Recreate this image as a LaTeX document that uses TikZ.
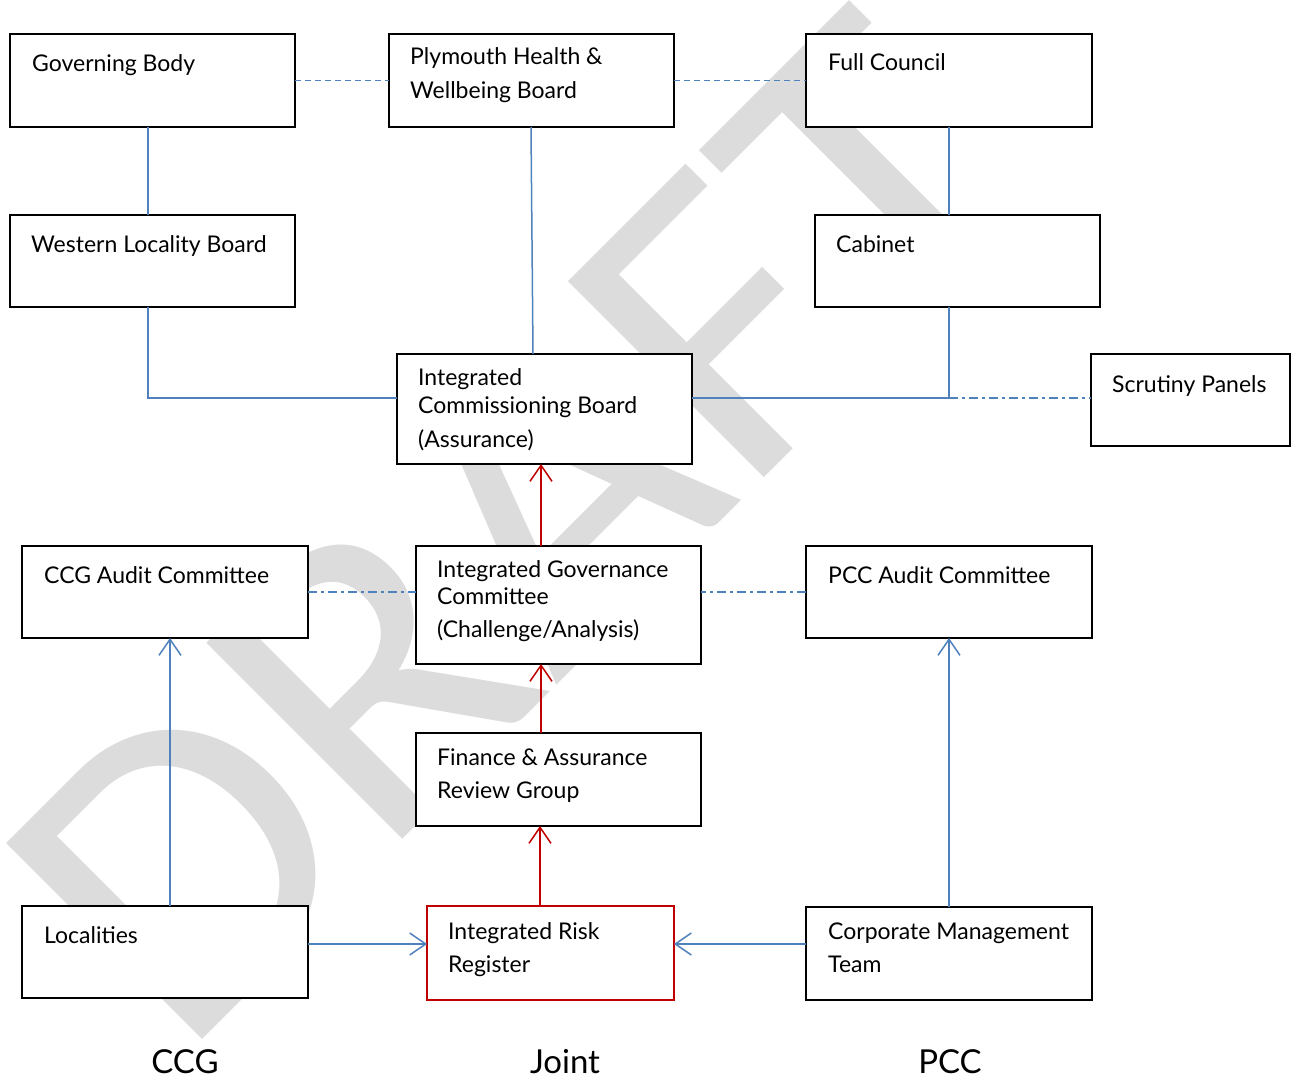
\documentclass[tikz,border=0pt]{standalone}
\usepackage{fontspec}
\setmainfont{Lato}
\newfontfamily\wmfont{Carlito}
\usetikzlibrary{arrows.meta,calc}
\definecolor{lnblue}{RGB}{79,129,189}
\definecolor{lnred}{RGB}{192,0,0}
\definecolor{wmgray}{RGB}{220,220,220}
\begin{document}
\begin{tikzpicture}[x=1pt,y=-1pt,
  box/.style={draw=black,line width=2pt,fill=white,inner sep=0pt,outer sep=0pt,anchor=north west},
  redbox/.style={box,draw=lnred},
  txt/.style={anchor=base west,inner sep=0pt,align=left,font=\fontsize{23}{28}\selectfont},
  conn/.style={lnblue,line width=1.5pt},
  dashconn/.style={conn,dash pattern=on 6pt off 4pt},
  dotconn/.style={conn,dash pattern=on 9pt off 4pt on 3pt off 4pt},
  redarr/.style={lnred,line width=1.5pt,-{Straight Barb[length=16pt,width=22pt]}},
  bluearr/.style={conn,-{Straight Barb[length=16pt,width=22pt]}},
  col/.style={anchor=base,inner sep=0pt,font=\fontsize{33}{36}\selectfont},
  wm/.style={anchor=base west,inner sep=0pt,rotate=45,xscale=1.06,text=wmgray,font=\wmfont\fontsize{432}{432}\selectfont}]
\useasboundingbox (0,0) rectangle (1294,1078);
\clip (0,0) rectangle (1294,1078);
\fill[white] (0,0) rectangle (1294,1078);

% watermark
\node[wm] (draft) at (180,1062) {DRAFT};

% boxes
\node[box,minimum width=285pt,minimum height=93pt] (gb) at (10,34) {};
\node[box,minimum width=285pt,minimum height=93pt] (phw) at (389,34) {};
\node[box,minimum width=286pt,minimum height=93pt] (fc) at (806,34) {};
\node[box,minimum width=285pt,minimum height=92pt] (wlb) at (10,215) {};
\node[box,minimum width=285pt,minimum height=92pt] (cab) at (815,215) {};
\node[box,minimum width=295pt,minimum height=110pt] (icb) at (397,354) {};
\node[box,minimum width=199pt,minimum height=92pt] (sp) at (1091,354) {};
\node[box,minimum width=286pt,minimum height=92pt] (ccga) at (22,546) {};
\node[box,minimum width=285pt,minimum height=118pt] (igc) at (416,546) {};
\node[box,minimum width=286pt,minimum height=92pt] (pcca) at (806,546) {};
\node[box,minimum width=285pt,minimum height=93pt] (farg) at (416,733) {};
\node[box,minimum width=286pt,minimum height=92pt] (loc) at (22,906) {};
\node[redbox,minimum width=247pt,minimum height=94pt] (irr) at (427,906) {};
\node[box,minimum width=286pt,minimum height=93pt] (cmt) at (806,907) {};

% texts (anchor = baseline of the last line)
\node[txt] (gbt) at ($(gb.north west)+(22,38)$) {Governing Body};
\node[txt] (phwt) at ($(phw.north west)+(21,65)$) {Plymouth Health \&\\[6pt]Wellbeing Board};
\node[txt] (fct) at ($(fc.north west)+(22,37)$) {Full Council};
\node[txt] (wlbt) at ($(wlb.north west)+(21,38)$) {Western Locality Board};
\node[txt] (cabt) at ($(cab.north west)+(21,38)$) {Cabinet};
\node[txt] (icbt) at ($(icb.north west)+(21,93)$) {Integrated\\Commissioning Board\\[6pt](Assurance)};
\node[txt] (spt) at ($(sp.north west)+(21,38)$) {Scrutiny Panels};
\node[txt] (ccgat) at ($(ccga.north west)+(22,37)$) {CCG Audit Committee};
\node[txt] (igct) at ($(igc.north west)+(21,91)$) {Integrated Governance\\[-1pt]Committee\\[5pt](Challenge/Analysis)};
\node[txt] (pccat) at ($(pcca.north west)+(22,37)$) {PCC Audit Committee};
\node[txt] (fargt) at ($(farg.north west)+(21,65)$) {Finance \& Assurance\\[5pt]Review Group};
\node[txt] (loct) at ($(loc.north west)+(22,37)$) {Localities};
\node[txt] (irrt) at ($(irr.north west)+(21,66)$) {Integrated Risk\\[5pt]Register};
\node[txt] (cmtt) at ($(cmt.north west)+(22,65)$) {Corporate Management\\[5pt]Team};

% column labels
\node[col] (ccgl) at (185,1073) {CCG};
\node[col] (jointl) at (565,1073) {Joint};
\node[col] (pccl) at (950,1073) {PCC};

% helper coordinates
\coordinate (icbL) at ($(icb.north west)+(0,44)$);
\coordinate (icbR) at ($(icb.north east)+(0,44)$);
\coordinate (cabB) at ($(cab.south west)+(134,0)$);
\coordinate (fcB) at ($(fc.south west)+(143,0)$);
\coordinate (phwB) at ($(phw.south west)+(142,0)$);
\coordinate (wlbB) at ($(wlb.south west)+(138,0)$);
\coordinate (gbB) at ($(gb.south west)+(138,0)$);
\coordinate (igcT) at ($(igc.north west)+(125,0)$);
\coordinate (fargT) at ($(farg.north west)+(125,0)$);
\coordinate (irrT) at ($(irr.north west)+(113,0)$);
\coordinate (locT) at ($(loc.north west)+(148,0)$);
\coordinate (locR) at ($(loc.north east)+(0,38)$);
\coordinate (cmtL) at ($(cmt.north west)+(0,37)$);
\coordinate (junc) at (cabB |- icbR);

% connectors
\draw[dashconn] (gb.east) -- (gb.east -| phw.west);
\draw[dashconn] (phw.east) -- (phw.east -| fc.west);
\draw[conn] (gbB) -- (gbB |- wlb.north);
\draw[conn] (fcB) -- (fcB |- cab.north);
\draw[conn] (phwB) -- ($(phwB |- icb.north)+(2,0)$);
\draw[conn] (wlbB) |- (icbL);
\draw[conn] (cabB) |- (icbR);
\draw[dotconn] (junc) -- (junc -| sp.west);
\draw[dotconn] (ccga.east) -- (ccga.east -| igc.west);
\draw[dotconn] (pcca.west) -- (pcca.west -| igc.east);
\draw[redarr] (igcT) -- (igcT |- icb.south);
\draw[redarr] (fargT) -- (fargT |- igc.south);
\draw[redarr] (irrT) -- (irrT |- farg.south);
\draw[bluearr] (locT) -- (locT |- ccga.south);
\draw[bluearr] (cmt.north) -- (cmt.north |- pcca.south);
\draw[bluearr] (locR) -- (locR -| irr.west);
\draw[bluearr] (cmtL) -- (cmtL -| irr.east);
\end{tikzpicture}
\end{document}
